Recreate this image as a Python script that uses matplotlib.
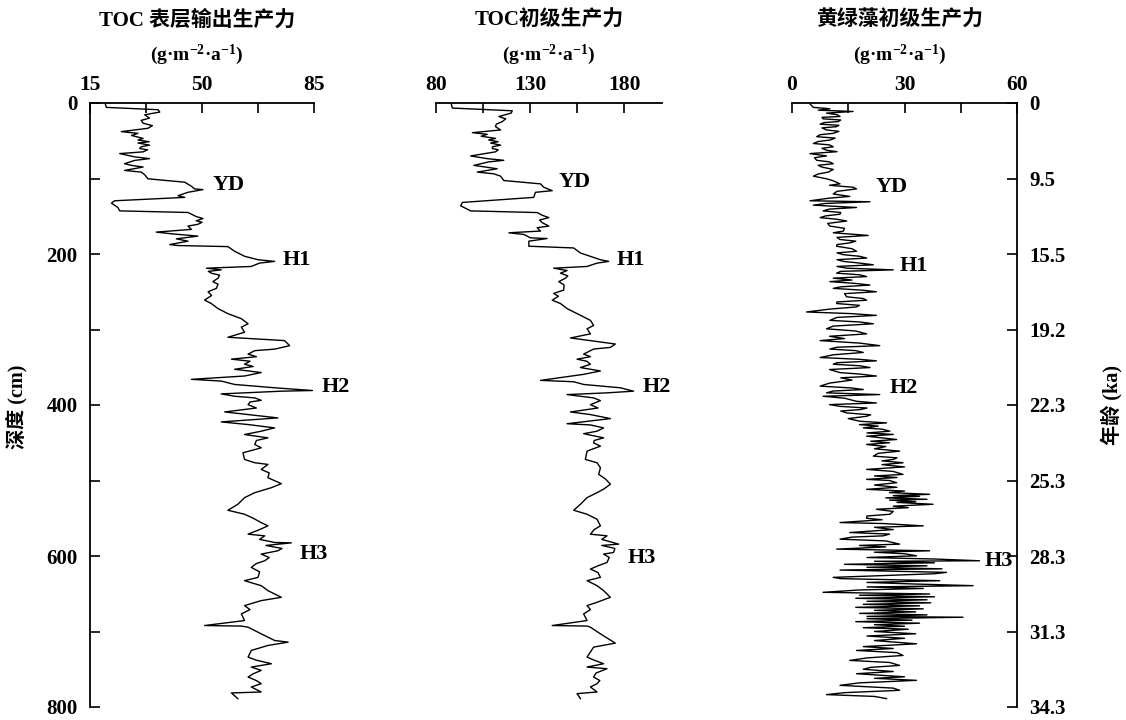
import numpy as np
import matplotlib.pyplot as plt

plt.rcParams['font.family'] = ['Liberation Serif', 'Noto Sans CJK SC']
plt.rcParams['font.weight'] = 'bold'
plt.rcParams['mathtext.fontset'] = 'custom'
plt.rcParams['mathtext.rm'] = 'Liberation Serif:bold'
plt.rcParams['mathtext.default'] = 'rm'

# (depth cm, TOC export productivity g m-2 a-1)
toc_export = [
    (1.3, 19.8), (5.8, 20.1), (8.9, 36.3), (12.0, 36.8), (15.6, 32.1), (20.0, 33.6),
    (23.0, 31.0), (26.8, 31.6), (30.0, 34.5), (33.5, 33.1), (37.9, 24.8), (40.2, 30.0),
    (43.0, 28.0), (46.9, 31.6), (49.0, 30.0), (51.3, 33.5), (53.0, 30.0), (55.8, 33.6),
    (58.0, 31.0), (60.3, 30.5), (62.0, 33.0), (64.7, 31.6), (67.0, 24.3), (71.4, 29.0),
    (73.7, 33.6), (76.0, 29.0), (80.4, 25.8), (82.6, 27.9), (84.8, 31.6), (89.3, 25.8),
    (91.5, 31.0), (95.0, 32.1), (100.4, 33.1), (104.9, 44.6), (110.3, 46.7), (113.8, 47.7),
    (114.7, 50.3), (118.3, 45.6), (122.8, 42.5), (125.0, 44.6), (129.5, 22.7), (132.6, 21.7),
    (138.4, 23.7), (142.9, 24.3), (145.0, 45.6), (147.3, 46.7), (150.4, 48.2), (153.0, 50.3),
    (156.0, 48.2), (158.0, 50.0), (160.7, 48.7), (163.0, 45.6), (167.4, 46.7), (171.0, 35.7),
    (173.2, 40.4), (176.3, 48.7), (179.9, 42.0), (183.0, 45.6), (187.5, 39.9), (188.8, 42.5),
    (190.2, 58.1), (196.4, 60.2), (203.0, 63.3), (207.6, 67.5), (209.8, 72.7), (212.0, 68.0),
    (216.5, 65.4), (218.8, 51.4), (221.0, 56.0), (223.0, 52.0), (225.4, 52.9), (228.0, 55.5),
    (232.0, 55.0), (236.6, 53.4), (240.0, 55.0), (245.5, 54.5), (250.0, 51.9), (255.0, 53.0),
    (261.0, 50.8), (265.6, 52.9), (272.3, 55.0), (279.0, 58.1), (285.7, 62.3), (292.4, 64.4),
    (296.9, 62.3), (303.6, 63.3), (310.3, 58.1), (314.7, 75.8), (321.4, 77.4), (326.0, 72.7),
    (328.0, 66.5), (332.6, 64.4), (336.0, 67.0), (339.3, 59.2), (342.0, 65.0), (346.0, 63.3),
    (349.0, 66.0), (352.7, 60.2), (357.0, 68.5), (361.6, 63.3), (366.0, 46.7), (368.3, 56.0),
    (372.8, 60.2), (377.2, 72.7), (380.8, 84.5), (381.7, 74.8), (385.3, 56.0), (388.4, 60.2),
    (390.6, 66.5), (393.8, 68.5), (396.0, 65.0), (399.6, 64.4), (404.0, 67.0), (409.2, 57.1),
    (412.7, 64.4), (417.1, 73.7), (422.4, 56.0), (425.9, 64.4), (430.3, 72.7), (434.7, 68.5),
    (439.1, 63.3), (443.5, 70.6), (447.0, 67.0), (452.3, 66.5), (456.7, 68.5), (463.3, 62.8),
    (472.1, 63.3), (476.5, 66.5), (478.7, 70.6), (485.3, 68.5), (490.0, 71.0), (496.3, 70.6),
    (504.2, 74.8), (509.5, 71.7), (516.1, 66.5), (522.7, 63.3), (531.5, 61.2), (539.4, 58.1),
    (544.7, 63.3), (550.0, 66.0), (555.7, 68.5), (560.1, 70.6), (565.0, 68.0), (571.1, 64.4),
    (573.3, 69.6), (578.0, 68.0), (582.1, 72.7), (582.6, 77.9), (586.0, 70.0), (590.0, 75.0),
    (593.1, 73.7), (597.5, 68.5), (602.0, 71.0), (606.3, 69.6), (610.0, 67.0), (615.1, 65.4),
    (621.0, 68.0), (628.3, 67.5), (632.7, 63.3), (639.3, 68.5), (645.9, 70.6), (654.7, 74.8),
    (659.1, 68.5), (665.7, 63.3), (671.0, 65.0), (676.7, 62.3), (685.5, 63.3), (692.1, 50.8),
    (692.8, 62.3), (694.3, 64.4), (703.1, 68.5), (711.9, 72.7), (714.1, 76.9), (718.5, 70.6),
    (725.1, 65.4), (733.9, 64.4), (738.0, 67.0), (742.7, 71.7), (747.1, 65.4), (751.5, 68.5),
    (756.0, 66.0), (760.3, 64.4), (765.0, 67.0), (769.1, 68.5), (773.5, 65.4), (780.1, 68.5),
    (781.4, 59.2), (788.9, 61.2),
]

# (depth cm, TOC primary productivity g m-2 a-1)
toc_primary = [
    (1.3, 88.1), (6.7, 88.7), (10.3, 120.5), (13.4, 119.9), (17.9, 113.4), (21.0, 117.0),
    (24.6, 115.2), (28.0, 112.0), (31.3, 111.6), (35.7, 114.3), (39.3, 99.3), (41.5, 107.2),
    (44.0, 104.0), (46.9, 111.6), (49.0, 108.0), (51.3, 113.0), (53.0, 109.0), (55.8, 114.3),
    (58.0, 110.0), (60.3, 109.9), (62.0, 113.0), (64.7, 111.6), (70.1, 98.4), (73.7, 107.2),
    (75.9, 116.0), (78.0, 108.0), (82.6, 100.1), (84.8, 106.3), (87.1, 112.5), (91.5, 101.9),
    (93.8, 110.7), (96.9, 114.3), (102.7, 116.0), (107.1, 135.5), (111.6, 137.2), (116.1, 141.7),
    (118.3, 132.8), (125.0, 131.9), (131.7, 94.0), (136.2, 93.1), (140.6, 96.6), (142.9, 98.4),
    (145.1, 133.7), (148.7, 136.4), (151.8, 139.9), (155.0, 135.0), (158.5, 136.4), (163.0, 139.9),
    (165.2, 133.7), (169.6, 135.5), (171.9, 118.7), (174.1, 126.6), (178.6, 130.2), (179.5, 139.0),
    (183.0, 129.3), (189.7, 129.3), (192.0, 153.1), (198.7, 156.7), (203.1, 162.0), (207.6, 167.3),
    (209.8, 171.7), (212.1, 165.5), (216.5, 160.2), (218.8, 142.5), (221.9, 149.6), (225.4, 146.1),
    (229.0, 150.0), (232.1, 148.7), (236.6, 145.2), (241.0, 148.0), (247.8, 147.8), (252.2, 142.5),
    (256.0, 145.0), (261.2, 141.7), (265.6, 146.1), (272.3, 149.6), (279.0, 154.9), (287.9, 162.0),
    (294.6, 163.7), (299.1, 160.2), (305.8, 162.0), (311.2, 151.4), (319.2, 175.2), (323.7, 172.6),
    (325.9, 163.7), (332.6, 158.4), (336.0, 162.0), (339.3, 154.9), (342.0, 160.0), (346.0, 162.0),
    (350.4, 156.7), (354.9, 167.3), (359.4, 158.4), (367.4, 135.5), (369.2, 153.1), (372.8, 158.4),
    (377.2, 177.9), (381.7, 184.9), (383.9, 170.8), (386.2, 149.6), (388.4, 156.7), (390.6, 163.7),
    (394.2, 167.3), (399.6, 162.0), (404.0, 166.0), (409.2, 151.4), (412.7, 162.0), (418.0, 172.6),
    (424.8, 149.6), (426.4, 162.0), (430.3, 169.0), (434.7, 165.5), (438.0, 158.4), (443.5, 169.0),
    (447.0, 164.0), (450.1, 163.7), (454.5, 167.3), (461.1, 160.2), (472.1, 159.3), (476.5, 165.5),
    (483.1, 167.3), (491.9, 166.4), (498.0, 170.0), (504.9, 172.6), (511.5, 169.0), (516.1, 165.5),
    (522.7, 160.2), (531.5, 156.7), (539.4, 153.1), (544.7, 160.2), (551.3, 165.5), (560.1, 167.3),
    (565.0, 164.0), (571.1, 162.0), (573.3, 170.8), (578.0, 168.0), (584.3, 177.0), (586.0, 168.0),
    (590.0, 175.0), (595.3, 174.3), (597.5, 169.0), (602.0, 172.0), (608.5, 170.8), (613.0, 166.0),
    (617.3, 162.0), (622.0, 166.0), (628.3, 167.3), (632.7, 160.2), (639.3, 165.5), (645.9, 169.0),
    (654.7, 172.6), (661.3, 165.5), (665.7, 160.2), (671.0, 162.0), (676.7, 158.4), (685.5, 160.2),
    (692.1, 141.7), (692.8, 160.2), (694.3, 162.0), (703.1, 167.3), (715.4, 175.2), (720.7, 163.7),
    (727.0, 162.0), (733.9, 160.2), (738.0, 164.0), (742.7, 169.0), (747.1, 160.2), (749.3, 170.8),
    (755.0, 165.0), (760.3, 163.7), (765.0, 167.0), (769.1, 165.5), (773.5, 162.0), (780.1, 165.5),
    (782.3, 154.9), (788.9, 156.7),
]

# (depth cm, chlorophyte primary productivity g m-2 a-1)
chloro_primary = [
    (1.3, 4.8), (5.8, 5.7), (7.6, 10.1), (9.5, 7.0), (11.2, 16.3), (13.4, 9.2), (15.5, 12.0),
    (17.9, 12.8), (19.0, 8.0), (21.0, 8.3), (22.5, 13.0), (24.6, 12.3), (26.0, 8.5), (28.1, 7.5),
    (29.5, 12.5), (31.3, 11.9), (33.0, 8.0), (35.7, 9.2), (37.5, 12.5), (40.2, 11.0), (42.0, 7.5),
    (44.6, 6.6), (46.5, 11.5), (49.1, 10.1), (51.0, 7.0), (53.6, 5.7), (55.5, 10.0), (58.0, 11.0),
    (60.0, 8.0), (62.5, 9.2), (64.5, 12.0), (67.0, 4.8), (70.1, 9.2), (72.5, 6.0), (75.9, 6.6),
    (78.0, 10.0), (80.4, 11.0), (82.5, 7.0), (84.8, 7.9), (88.0, 11.0), (91.5, 9.7), (94.0, 7.0),
    (96.9, 5.7), (100.4, 9.2), (103.0, 11.0), (107.1, 12.8), (109.0, 10.0), (111.6, 16.3),
    (113.8, 17.2), (117.0, 12.0), (120.5, 11.0), (123.7, 15.4), (126.0, 10.0), (129.5, 4.8),
    (130.8, 20.8), (133.0, 9.0), (135.3, 5.7), (138.4, 17.2), (140.5, 10.0), (142.9, 8.3),
    (145.0, 13.0), (147.3, 12.8), (149.5, 9.0), (151.8, 7.5), (154.0, 12.0), (156.3, 14.6),
    (159.5, 9.5), (163.0, 10.1), (166.0, 14.0), (169.6, 13.7), (171.9, 11.0), (175.4, 20.3),
    (178.0, 12.0), (180.8, 12.8), (183.0, 17.0), (185.3, 15.4), (187.5, 12.0), (189.7, 11.9),
    (193.0, 16.0), (196.4, 17.2), (198.5, 12.0), (200.9, 13.7), (203.0, 18.0), (205.4, 19.9),
    (207.5, 12.0), (209.8, 13.7), (212.0, 18.0), (214.3, 21.7), (216.5, 12.0), (218.8, 14.6),
    (221.0, 27.0), (223.0, 13.0), (225.4, 11.9), (227.5, 18.0), (229.9, 19.9), (232.0, 11.0),
    (234.5, 16.0), (236.6, 10.1), (239.0, 17.0), (241.1, 20.8), (243.5, 13.0), (245.5, 11.0),
    (248.0, 19.0), (250.0, 22.5), (252.5, 14.0), (256.7, 14.6), (259.0, 19.0), (261.2, 19.9),
    (263.5, 12.0), (265.6, 11.9), (268.0, 18.0), (270.1, 17.2), (273.0, 10.0), (276.8, 3.9),
    (279.0, 16.0), (281.3, 22.5), (284.0, 12.0), (287.9, 10.1), (290.0, 18.0), (292.4, 21.7),
    (295.5, 11.0), (299.1, 9.2), (302.0, 17.0), (305.8, 19.9), (309.0, 10.0), (312.0, 14.0),
    (314.7, 7.5), (318.0, 18.0), (321.4, 23.4), (323.5, 12.0), (325.9, 10.1), (328.0, 17.0),
    (330.4, 19.0), (333.5, 11.0), (337.1, 7.5), (339.5, 18.0), (341.5, 22.5), (344.0, 12.0),
    (346.0, 11.0), (348.0, 18.0), (350.4, 20.8), (353.0, 10.0), (357.1, 12.8), (359.0, 18.0),
    (361.6, 22.5), (364.0, 13.0), (367.0, 16.0), (371.0, 10.0), (375.0, 7.5), (377.5, 16.0),
    (379.5, 19.0), (381.5, 11.0), (383.9, 9.2), (386.2, 23.4), (388.4, 8.3), (391.0, 14.0),
    (395.1, 17.2), (397.3, 22.5), (399.5, 10.0), (401.8, 12.8), (404.0, 20.0), (406.1, 18.1),
    (408.0, 13.0), (410.5, 14.6), (413.0, 21.0), (414.9, 19.9), (418.0, 15.0), (421.5, 18.1),
    (423.7, 25.2), (426.0, 18.0), (428.0, 23.0), (430.3, 19.0), (432.0, 24.0), (434.7, 26.1),
    (437.0, 20.0), (439.0, 27.0), (441.3, 19.9), (443.0, 23.0), (445.7, 27.9), (448.0, 21.0),
    (450.0, 26.0), (452.3, 19.9), (455.0, 25.0), (458.0, 22.0), (461.1, 28.7), (464.0, 23.0),
    (467.7, 21.7), (470.0, 28.0), (472.1, 27.0), (474.0, 24.0), (476.5, 29.6), (479.0, 24.0),
    (482.0, 30.0), (485.3, 19.9), (488.0, 27.0), (491.9, 29.6), (494.0, 22.0), (496.0, 28.0),
    (498.5, 19.9), (500.0, 26.0), (502.9, 27.9), (506.0, 22.0), (509.0, 28.0), (511.7, 19.9),
    (514.0, 30.0), (516.0, 26.0), (518.3, 36.7), (520.0, 27.0), (521.0, 34.0), (523.0, 25.0),
    (524.9, 36.0), (526.0, 26.0), (528.0, 33.0), (529.0, 28.0), (531.5, 37.6), (534.0, 27.0),
    (536.0, 31.0), (538.1, 22.5), (541.0, 27.0), (544.7, 26.1), (547.0, 20.0), (550.0, 19.9),
    (552.0, 24.0), (555.7, 12.8), (557.0, 24.3), (560.1, 35.0), (562.0, 22.0), (565.0, 27.0),
    (568.9, 15.4), (571.0, 26.0), (573.3, 24.3), (575.0, 16.0), (577.7, 12.8), (580.0, 25.0),
    (584.3, 28.7), (586.0, 18.0), (588.0, 25.0), (590.9, 11.9), (593.1, 36.7), (595.0, 22.0),
    (597.0, 30.0), (599.7, 33.2), (602.0, 20.0), (604.0, 38.0), (606.3, 50.0), (607.0, 22.0),
    (609.0, 38.0), (611.0, 14.0), (613.0, 36.0), (615.0, 20.0), (617.0, 40.0), (618.6, 12.8),
    (621.7, 41.2), (623.5, 38.0), (628.3, 11.0), (630.0, 13.0), (632.7, 39.4), (635.0, 20.0),
    (637.0, 32.0), (639.3, 48.3), (641.0, 20.0), (643.0, 35.0), (645.0, 18.0), (648.1, 8.3),
    (650.3, 36.7), (652.0, 18.0), (654.0, 38.0), (656.0, 17.0), (658.0, 36.0), (660.0, 20.0),
    (662.0, 37.0), (664.0, 19.0), (666.0, 34.0), (668.0, 17.0), (670.0, 35.0), (672.0, 22.0),
    (674.0, 33.0), (676.0, 18.0), (678.0, 36.0), (680.0, 20.0), (681.1, 45.6), (683.0, 20.0),
    (685.0, 32.0), (687.0, 17.0), (689.0, 34.0), (691.0, 22.0), (693.0, 30.0), (695.0, 19.0),
    (697.0, 31.0), (700.0, 22.0), (703.0, 33.0), (706.0, 20.0), (709.0, 30.0), (712.0, 22.0),
    (716.3, 33.2), (720.0, 19.0), (722.5, 27.0), (725.1, 17.2), (728.0, 28.0), (731.7, 29.6),
    (735.0, 20.0), (738.3, 15.4), (741.0, 26.0), (744.9, 28.7), (747.5, 21.0), (750.0, 19.0),
    (753.0, 27.0), (755.9, 17.2), (760.0, 30.0), (762.0, 22.0), (764.7, 33.2), (768.0, 18.0),
    (771.3, 12.8), (775.0, 27.0), (777.9, 28.7), (781.0, 14.0), (783.6, 9.2), (786.0, 22.0),
    (788.9, 25.2),
]

depth_ticks = np.arange(0, 801, 100)
age_labels = ['0', '9.5', '15.5', '19.2', '22.3', '25.3', '28.3', '31.3', '34.3']
unit_label = r'(g·m$^{-2}$·a$^{-1}$)'

panels = [
    dict(data=toc_export, xlim=(15, 85), xticks=[15, 32.5, 50, 67.5, 85],
         xlabels=['15', '', '50', '', '85'],
         events=[('YD', 53.4, 108), ('H1', 75.3, 208), ('H2', 87.5, 376), ('H3', 80.6, 598)],
         title='TOC 表层输出生产力', box=(90, 314)),
    dict(data=toc_primary, xlim=(80, 200), xticks=[80, 105, 130, 155, 180],
         xlabels=['80', '', '130', '', '180'],
         events=[('YD', 144.9, 104), ('H1', 175.7, 208), ('H2', 189.6, 376), ('H3', 181.6, 602)],
         title='TOC初级生产力', box=(436, 662)),
    dict(data=chloro_primary, xlim=(0, 60), xticks=[0, 15, 30, 45, 60],
         xlabels=['0', '', '30', '', '60'],
         events=[('YD', 22.4, 111), ('H1', 28.8, 216), ('H2', 25.9, 378), ('H3', 51.3, 606)],
         title='黄绿藻初级生产力', box=(792, 1017)),
]

W, H = 1126, 720
fig = plt.figure(figsize=(W / 100, H / 100), dpi=100)

# plot area spans y = 103..707 px from the top
title_x = [197, 549, 900]
for i, p in enumerate(panels):
    x0, x1 = p['box']
    ax = fig.add_axes([x0 / W, 13 / H, (x1 - x0) / W, 604 / H])
    arr = np.array(p['data'])
    ax.plot(arr[:, 1], arr[:, 0], color='black', lw=1.0)
    ax.set_xlim(*p['xlim'])
    ax.set_ylim(800, 0)

    ax.xaxis.tick_top()
    ax.set_xticks(p['xticks'])
    ax.set_xticklabels(p['xlabels'])
    ax.tick_params(axis='x', direction='in', length=7, width=1.2, labelsize=15.5, pad=6)

    for s in ax.spines.values():
        s.set_linewidth(1.3)
    ax.spines['bottom'].set_visible(False)
    ax.spines['right'].set_visible(i == 2)
    ax.spines['left'].set_visible(i == 0)

    if i == 0:
        ax.set_yticks(depth_ticks)
        ax.set_yticklabels([str(d) if d % 200 == 0 else '' for d in depth_ticks])
        ax.tick_params(axis='y', direction='in', length=7, width=1.2, labelsize=15, pad=9)
    elif i == 2:
        ax.yaxis.tick_right()
        ax.set_yticks(depth_ticks)
        ax.set_yticklabels(age_labels)
        ax.tick_params(axis='y', direction='in', length=7, width=1.2, labelsize=15, pad=9)
    else:
        ax.set_yticks([])

    for name, xv, dv in p['events']:
        ax.text(xv, dv, name, fontsize=16, ha='left', va='center', clip_on=False)

    fig.text(title_x[i] / W, 1 - 21 / H, p['title'], ha='center', va='center', fontsize=15)
    fig.text(title_x[i] / W, 1 - 55 / H, unit_label, ha='center', va='center', fontsize=14)

fig.text(17 / W, 1 - 407 / H, '深度 (cm)', rotation=90, ha='center', va='center', fontsize=14.5)
fig.text(1112 / W, 1 - 405 / H, '年龄 (ka)', rotation=90, ha='center', va='center', fontsize=14.5)

fig.savefig('out.png', dpi=100)
